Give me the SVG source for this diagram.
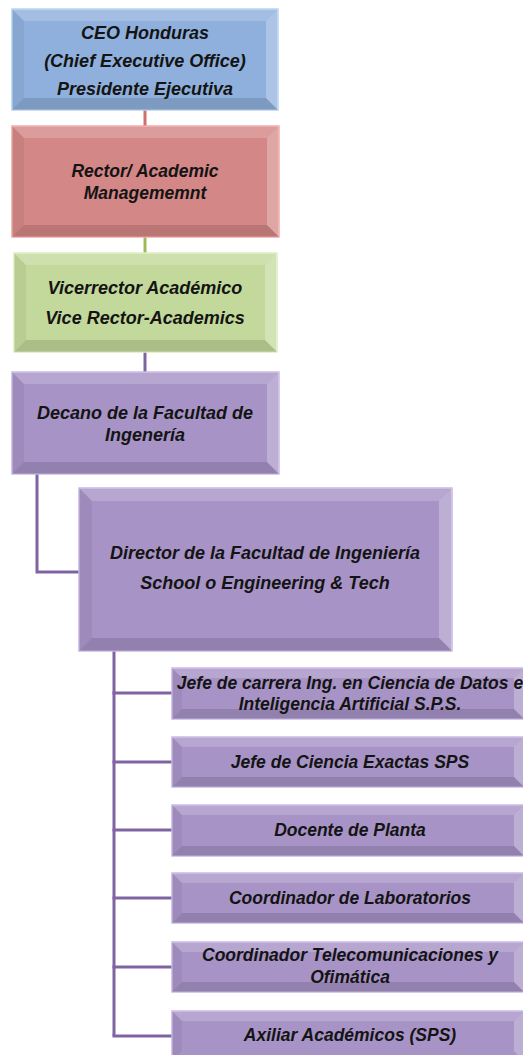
<svg xmlns="http://www.w3.org/2000/svg" width="523" height="1055" viewBox="0 0 523 1055">
<style>
.t{font-family:"Liberation Sans",Arial,sans-serif;font-weight:bold;font-style:italic;font-size:17.5px;fill:#141414;text-anchor:middle}
.big{font-size:18px}
.blue{fill:#8fb0dc;stroke:#b8d2f2;stroke-width:1.5}
.red{fill:#d38786;stroke:#f2a8a8;stroke-width:1.5}
.green{fill:#c3d99b;stroke:#dcefbf;stroke-width:1.5}
.purple{fill:#a793c6;stroke:#c8b8e6;stroke-width:1.5}
.bt{fill:#fff;opacity:.18}
.br{fill:#fff;opacity:.26}
.bb{fill:#000;opacity:.12}
.bl{fill:#000;opacity:.05}
.c{fill:none;stroke-width:3}
</style>
<g id="connectors">
<line class="c" x1="145" y1="110" x2="145" y2="126" stroke="#cf6f6e"/>
<line class="c" x1="145" y1="237" x2="145" y2="253" stroke="#9bbb59"/>
<line class="c" x1="145" y1="352" x2="145" y2="372" stroke="#8064a2"/>
<polyline class="c" points="37,474 37,572 79,572" stroke="#8064a2"/>
<line class="c" x1="114" y1="651" x2="114" y2="1036" stroke="#8064a2"/>
<line class="c" x1="112.5" y1="693" x2="172" y2="693" stroke="#8064a2"/>
<line class="c" x1="112.5" y1="762" x2="172" y2="762" stroke="#8064a2"/>
<line class="c" x1="112.5" y1="830" x2="172" y2="830" stroke="#8064a2"/>
<line class="c" x1="112.5" y1="898" x2="172" y2="898" stroke="#8064a2"/>
<line class="c" x1="112.5" y1="967" x2="172" y2="967" stroke="#8064a2"/>
<line class="c" x1="112.5" y1="1036" x2="172" y2="1036" stroke="#8064a2"/>
</g>
<g id="ceo">
<rect class="blue" x="12" y="9" width="266" height="101"/>
<polygon class="bt" points="12,9 278,9 266,21 24,21"/>
<polygon class="br" points="278,9 278,110 266,98 266,21"/>
<polygon class="bb" points="12,110 278,110 266,98 24,98"/>
<polygon class="bl" points="12,9 24,21 24,98 12,110"/>
<text class="t big" x="145" y="39">CEO Honduras</text>
<text class="t big" x="145" y="67">(Chief Executive Office)</text>
<text class="t big" x="145" y="95">Presidente Ejecutiva</text>
</g>
<g id="rector">
<rect class="red" x="12" y="126" width="267" height="111"/>
<polygon class="bt" points="12,126 279,126 267,138 24,138"/>
<polygon class="br" points="279,126 279,237 267,225 267,138"/>
<polygon class="bb" points="12,237 279,237 267,225 24,225"/>
<polygon class="bl" points="12,126 24,138 24,225 12,237"/>
<text class="t" x="145" y="177">Rector/ Academic</text>
<text class="t" x="145" y="199">Managememnt</text>
</g>
<g id="vicerrector">
<rect class="green" x="14" y="253" width="263" height="99"/>
<polygon class="bt" points="14,253 277,253 265,265 26,265"/>
<polygon class="br" points="277,253 277,352 265,340 265,265"/>
<polygon class="bb" points="14,352 277,352 265,340 26,340"/>
<polygon class="bl" points="14,253 26,265 26,340 14,352"/>
<text class="t big" x="145" y="294">Vicerrector Académico</text>
<text class="t big" x="145" y="324">Vice Rector-Academics</text>
</g>
<g id="decano">
<rect class="purple" x="12" y="372" width="267" height="102"/>
<polygon class="bt" points="12,372 279,372 267,384 24,384"/>
<polygon class="br" points="279,372 279,474 267,462 267,384"/>
<polygon class="bb" points="12,474 279,474 267,462 24,462"/>
<polygon class="bl" points="12,372 24,384 24,462 12,474"/>
<text class="t big" x="145" y="419">Decano de la Facultad de</text>
<text class="t big" x="145" y="441">Ingenería</text>
</g>
<g id="director">
<rect class="purple" x="79" y="488" width="373" height="163"/>
<polygon class="bt" points="79,488 452,488 439,501 92,501"/>
<polygon class="br" points="452,488 452,651 439,638 439,501"/>
<polygon class="bb" points="79,651 452,651 439,638 92,638"/>
<polygon class="bl" points="79,488 92,501 92,638 79,651"/>
<text class="t big" x="265" y="559">Director de la Facultad de Ingeniería</text>
<text class="t big" x="265" y="589">School o Engineering &amp; Tech</text>
</g>
<g id="jefe-carrera">
<rect class="purple" x="172" y="668" width="352" height="51"/>
<polygon class="bt" points="172,668 524,668 514,678 182,678"/>
<polygon class="br" points="524,668 524,719 514,709 514,678"/>
<polygon class="bb" points="172,719 524,719 514,709 182,709"/>
<polygon class="bl" points="172,668 182,678 182,709 172,719"/>
<text class="t" x="350" y="689">Jefe de carrera Ing. en Ciencia de Datos e</text>
<text class="t" x="350" y="710">Inteligencia Artificial S.P.S.</text>
</g>
<g id="jefe-ciencias">
<rect class="purple" x="172" y="737" width="352" height="50"/>
<polygon class="bt" points="172,737 524,737 514,747 182,747"/>
<polygon class="br" points="524,737 524,787 514,777 514,747"/>
<polygon class="bb" points="172,787 524,787 514,777 182,777"/>
<polygon class="bl" points="172,737 182,747 182,777 172,787"/>
<text class="t" x="350" y="768">Jefe de Ciencia Exactas SPS</text>
</g>
<g id="docente">
<rect class="purple" x="172" y="805" width="352" height="51"/>
<polygon class="bt" points="172,805 524,805 514,815 182,815"/>
<polygon class="br" points="524,805 524,856 514,846 514,815"/>
<polygon class="bb" points="172,856 524,856 514,846 182,846"/>
<polygon class="bl" points="172,805 182,815 182,846 172,856"/>
<text class="t" x="350" y="836">Docente de Planta</text>
</g>
<g id="coord-lab">
<rect class="purple" x="172" y="873" width="352" height="50"/>
<polygon class="bt" points="172,873 524,873 514,883 182,883"/>
<polygon class="br" points="524,873 524,923 514,913 514,883"/>
<polygon class="bb" points="172,923 524,923 514,913 182,913"/>
<polygon class="bl" points="172,873 182,883 182,913 172,923"/>
<text class="t" x="350" y="904">Coordinador de Laboratorios</text>
</g>
<g id="coord-telecom">
<rect class="purple" x="172" y="942" width="352" height="50"/>
<polygon class="bt" points="172,942 524,942 514,952 182,952"/>
<polygon class="br" points="524,942 524,992 514,982 514,952"/>
<polygon class="bb" points="172,992 524,992 514,982 182,982"/>
<polygon class="bl" points="172,942 182,952 182,982 172,992"/>
<text class="t" x="350" y="961">Coordinador Telecomunicaciones y</text>
<text class="t" x="350" y="983">Ofimática</text>
</g>
<g id="axiliar">
<rect class="purple" x="172" y="1011" width="352" height="50"/>
<polygon class="bt" points="172,1011 524,1011 514,1021 182,1021"/>
<polygon class="br" points="524,1011 524,1061 514,1051 514,1021"/>
<polygon class="bl" points="172,1011 182,1021 182,1051 172,1061"/>
<text class="t" x="350" y="1041">Axiliar Académicos (SPS)</text>
</g>
</svg>
